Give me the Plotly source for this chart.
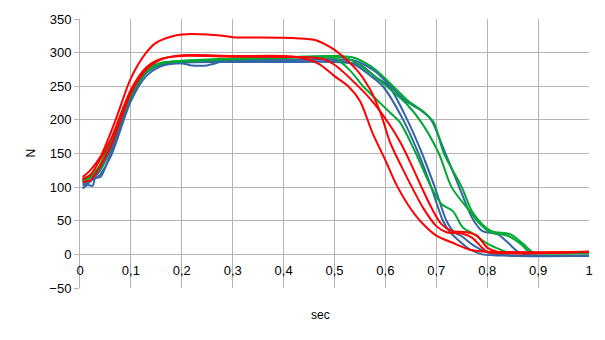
import plotly.graph_objects as go

# Force curves (N) over time (sec): three trials per condition
blue_1_t = [0.005, 0.015, 0.025, 0.03, 0.04, 0.06, 0.1, 0.13, 0.16, 0.2, 0.22, 0.25, 0.28, 0.3, 0.4, 0.5, 0.54, 0.57, 0.595, 0.635, 0.665, 0.69, 0.713, 0.725, 0.745, 0.765, 0.79, 0.85, 1.0]
blue_1_n = [98, 103, 102, 114, 115, 150, 232, 270, 282, 284, 281, 281, 287, 289, 289, 289, 282, 266, 250, 200, 150, 100, 50, 35, 20, 8, 0, -2, -2]

blue_2_t = [0.005, 0.02, 0.035, 0.06, 0.1, 0.13, 0.16, 0.2, 0.3, 0.4, 0.5, 0.55, 0.58, 0.607, 0.643, 0.672, 0.697, 0.72, 0.735, 0.75, 0.77, 0.8, 0.85, 1.0]
blue_2_n = [105, 110, 115, 145, 228, 265, 280, 285, 286, 286, 286, 282, 264, 250, 200, 150, 100, 50, 33, 27, 15, 3, -2, -2]

blue_3_t = [0.005, 0.02, 0.04, 0.07, 0.1, 0.13, 0.16, 0.2, 0.3, 0.4, 0.5, 0.54, 0.58, 0.61, 0.64, 0.67, 0.69, 0.71, 0.745, 0.77, 0.79, 0.82, 0.84, 0.86, 0.88, 1.0]
blue_3_n = [102, 108, 125, 175, 235, 270, 283, 287, 288, 289, 290, 288, 272, 250, 228, 214, 200, 165, 100, 55, 35, 30, 18, 4, -1, -2]

green_1_t = [0.005, 0.02, 0.04, 0.07, 0.1, 0.13, 0.16, 0.2, 0.3, 0.4, 0.47, 0.5, 0.53, 0.556, 0.583, 0.609, 0.629, 0.66, 0.69, 0.71, 0.733, 0.752, 0.772, 0.8, 0.82, 0.84, 0.86, 1.0]
green_1_n = [110, 115, 130, 185, 240, 275, 285, 287, 290, 292, 293, 292, 274, 250, 230, 211, 196, 150, 100, 75, 64, 40, 31, 16, 9, 3, 2, 2]

green_2_t = [0.005, 0.02, 0.035, 0.07, 0.1, 0.13, 0.16, 0.2, 0.3, 0.4, 0.5, 0.53, 0.57, 0.61, 0.64, 0.671, 0.705, 0.73, 0.766, 0.786, 0.806, 0.839, 0.865, 0.884, 0.9, 1.0]
green_2_n = [112, 118, 128, 185, 238, 272, 284, 287, 291, 293, 294, 290, 270, 245, 225, 196, 150, 100, 64, 45, 33, 28, 16, 3, 2, 2]

green_3_t = [0.005, 0.02, 0.04, 0.07, 0.1, 0.13, 0.16, 0.2, 0.3, 0.4, 0.5, 0.54, 0.58, 0.615, 0.645, 0.675, 0.695, 0.715, 0.75, 0.77, 0.79, 0.81, 0.845, 0.87, 0.89, 0.9, 1.0]
green_3_n = [108, 114, 128, 180, 236, 271, 284, 288, 291, 293, 295, 292, 275, 250, 228, 212, 196, 150, 100, 64, 45, 34, 30, 16, 3, 2, 2]

red_1_t = [0.005, 0.02, 0.04, 0.07, 0.1, 0.13, 0.15, 0.18, 0.2, 0.25, 0.28, 0.3, 0.4, 0.45, 0.465, 0.5, 0.544, 0.57, 0.59, 0.609, 0.63, 0.652, 0.675, 0.7, 0.72, 0.75, 0.77, 0.79, 0.8, 1.0]
red_1_n = [115, 125, 145, 200, 262, 300, 315, 324, 327, 327, 325, 323, 322, 320, 318, 304, 274, 245, 211, 167, 133, 100, 68, 42, 33, 31, 25, 10, 4, 4]

red_2_t = [0.005, 0.02, 0.035, 0.06, 0.1, 0.13, 0.16, 0.2, 0.3, 0.4, 0.43, 0.47, 0.5, 0.527, 0.55, 0.575, 0.6, 0.622, 0.645, 0.668, 0.7, 0.73, 0.766, 0.8, 1.0]
red_2_n = [108, 110, 125, 160, 240, 275, 290, 296, 295, 295, 293, 283, 265, 250, 228, 180, 140, 103, 73, 50, 28, 18, 7, 4, 4]

red_3_t = [0.005, 0.02, 0.035, 0.06, 0.1, 0.13, 0.16, 0.2, 0.3, 0.45, 0.48, 0.5, 0.544, 0.576, 0.609, 0.629, 0.65, 0.671, 0.69, 0.71, 0.73, 0.76, 0.78, 0.8, 0.82, 1.0]
red_3_n = [112, 118, 135, 170, 245, 278, 291, 295, 294, 293, 290, 282, 252, 226, 192, 167, 135, 100, 70, 45, 35, 33, 28, 10, 4, 4]

x_ticks = [0, 0.1, 0.2, 0.3, 0.4, 0.5, 0.6, 0.7, 0.8, 0.9, 1]
x_tick_text = ["0", "0,1", "0,2", "0,3", "0,4", "0,5", "0,6", "0,7", "0,8", "0,9", "1"]
y_ticks = [-50, 0, 50, 100, 150, 200, 250, 300, 350]

BLUE = "#3465a4"
GREEN = "#00a933"
RED = "#ff0000"

series = [
    (blue_1_t, blue_1_n, BLUE), (blue_2_t, blue_2_n, BLUE), (blue_3_t, blue_3_n, BLUE),
    (green_1_t, green_1_n, GREEN), (green_2_t, green_2_n, GREEN), (green_3_t, green_3_n, GREEN),
    (red_1_t, red_1_n, RED), (red_2_t, red_2_n, RED), (red_3_t, red_3_n, RED),
]

fig = go.Figure()
for t, n, c in series:
    fig.add_trace(go.Scatter(
        x=t, y=n, mode="lines",
        line=dict(color=c, width=2, shape="spline", smoothing=0.8),
        showlegend=False, hoverinfo="skip",
    ))

y_min, y_max = -50, 350
grid = "#b3b3b3"
font = dict(family="Liberation Sans, Arial, sans-serif", size=13, color="#000000")

fig.update_layout(
    width=605, height=340,
    margin=dict(l=80, r=16, t=16, b=52),
    paper_bgcolor="white", plot_bgcolor="white",
    font=font,
    showlegend=False,
    xaxis=dict(
        range=[0, 1], tickvals=x_ticks, ticktext=x_tick_text,
        showgrid=True, gridcolor=grid, gridwidth=1,
        zeroline=False, showline=False,
        ticks="outside", ticklen=4, tickcolor="rgba(0,0,0,0)",
        anchor="free", position=(0 - y_min) / (y_max - y_min),
        tickfont=font,
    ),
    yaxis=dict(
        range=[y_min, y_max], tickvals=y_ticks,
        showgrid=True, gridcolor=grid, gridwidth=1,
        zeroline=False, showline=True, linecolor=grid, linewidth=1,
        ticks="outside", ticklen=5, tickcolor=grid,
        tickfont=font,
    ),
    annotations=[
        dict(text="sec", x=0.5, xref="paper", y=315, yref="paper", showarrow=False,
             font=dict(family=font["family"], size=12, color="#000000")),
        dict(text="N", x=30, y=152, showarrow=False, textangle=-90,
             font=dict(family=font["family"], size=12, color="#000000")),
    ],
)

# axis-title annotations are positioned in pixels
fig.layout.annotations[0].update(xref="paper", yref="paper", x=(320 - 80) / 509, y=1 - (315 - 16) / 272,
                                 yanchor="middle", xanchor="center")
fig.layout.annotations[1].update(xref="paper", yref="paper", x=(30 - 80) / 509, y=1 - (152 - 16) / 272,
                                 yanchor="middle", xanchor="center")

fig.write_html("out.html")
